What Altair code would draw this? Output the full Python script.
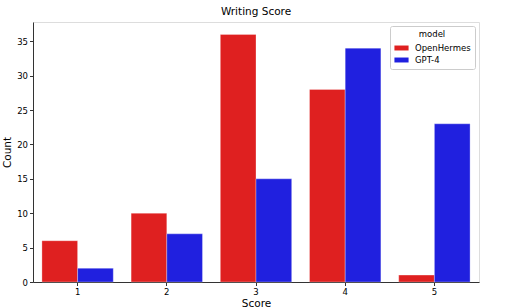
import altair as alt
import pandas as pd

scores = ["1", "2", "3", "4", "5"]
openhermes = [6, 10, 36, 28, 1]
gpt4 = [2, 7, 15, 34, 23]
models = ["OpenHermes", "GPT-4"]

rows = []
for s, a, b in zip(scores, openhermes, gpt4):
    rows.append({"Score": s, "model": models[0], "Count": a})
    rows.append({"Score": s, "model": models[1], "Count": b})
df = pd.DataFrame(rows)

font = "DejaVu Sans"

chart = alt.Chart(df).mark_bar(stroke="white", strokeWidth=0.5, strokeOpacity=0.6).encode(
    x=alt.X("Score:N", sort=scores, title="Score",
            scale=alt.Scale(paddingInner=0.2, paddingOuter=0.1),
            axis=alt.Axis(labelAngle=0, labelFontSize=8.5, titleFontSize=10.5,
                          labelColor="black", titleColor="black", domainColor="#333",
                          tickColor="#333", tickSize=3.5, titlePadding=2,
                          labelFont=font, titleFont=font, titleFontWeight="normal")),
    xOffset=alt.XOffset("model:N", sort=models),
    y=alt.Y("Count:Q", title="Count", scale=alt.Scale(domain=[0, 37.8], nice=False),
            axis=alt.Axis(values=[0, 5, 10, 15, 20, 25, 30, 35], grid=False, labelFontSize=8.5,
                          titleFontSize=10.5, labelColor="black", titleColor="black",
                          domainColor="#333", tickColor="#333", tickSize=3.5, titlePadding=4,
                          labelFont=font, titleFont=font, titleFontWeight="normal")),
    color=alt.Color("model:N", sort=models, title="model",
                    scale=alt.Scale(domain=models, range=["#df2020", "#2020df"]),
                    legend=alt.Legend(orient="top-right", offset=4, fillColor="white",
                                      strokeColor="#cccccc", cornerRadius=2, padding=4,
                                      symbolType="M-1,-0.35L1,-0.35L1,0.35L-1,0.35Z",
                                      symbolSize=200, symbolStrokeWidth=0,
                                      titleFontSize=8.5, labelFontSize=8.5, titleFont=font,
                                      labelFont=font, titleFontWeight="normal",
                                      titleAnchor="middle", labelColor="black", titleColor="black",
                                      rowPadding=0, titlePadding=2, labelOffset=6)),
).properties(
    width=446, height=260,
    title=alt.TitleParams("Writing Score", fontSize=10.5, font=font, fontWeight="normal",
                          color="black", offset=5),
    autosize=alt.AutoSizeParams(type="none"),
    padding={"left": 33, "top": 22, "right": 35, "bottom": 25},
).configure_view(stroke="#333", strokeWidth=1).configure(background="white")

chart.save("out.html", embed_options={"renderer": "svg", "actions": False})
